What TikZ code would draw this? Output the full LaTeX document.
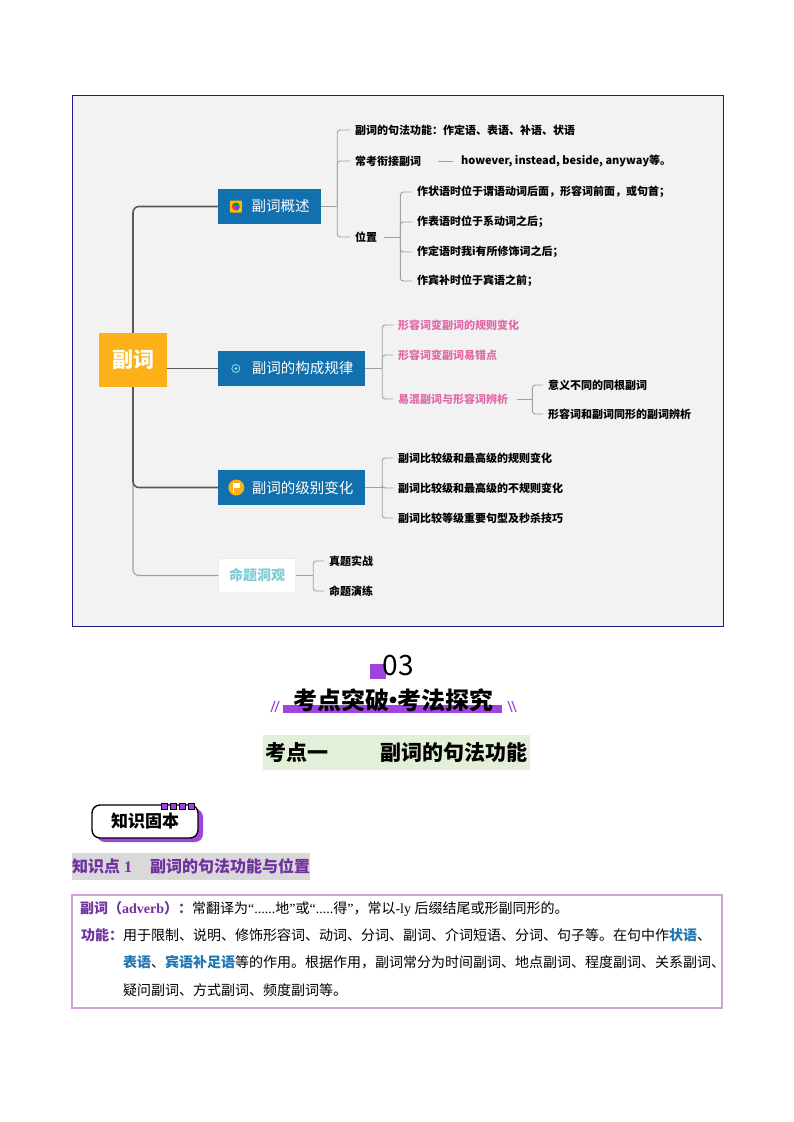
\documentclass[tikz,border=0pt]{standalone}
\usepackage{fontspec}
\setmainfont{Noto Sans CJK SC}
\newfontfamily\latinf{Liberation Serif}
\usepackage{tikz}
\usetikzlibrary{calc, shadows}
\definecolor{mapBlue}{HTML}{1170AD}
\definecolor{rootOrange}{HTML}{FBB117}
\definecolor{mapGray}{HTML}{F2F2F2}
\definecolor{frameNavy}{HTML}{1C1C86}
\definecolor{lineDark}{HTML}{5A5A5A}
\definecolor{lineGray}{HTML}{A0A0A0}
\definecolor{linkPink}{HTML}{E06AA8}
\definecolor{mintText}{HTML}{7FCBD4}
\definecolor{barPurple}{HTML}{A044E0}
\definecolor{kdGreen}{HTML}{E2EFD9}
\definecolor{zdGray}{HTML}{D9D9D9}
\definecolor{txtPurple}{HTML}{7030A0}
\definecolor{txtBlue}{HTML}{1F77B4}
\definecolor{boxPink}{HTML}{D4A0DC}
\newcommand{\mapfs}[1]{\fontsize{#1}{#1}\selectfont}
\newcommand{\purtxt}[1]{{\color{txtPurple}\bfseries #1}}
\newcommand{\blutxt}[1]{{\color{txtBlue}\bfseries #1}}

\begin{document}
\begin{tikzpicture}[x=1pt, y=-1pt,
    mainbox/.style={fill=mapBlue, text=white, minimum height=35, inner sep=0, font=\mapfs{14.5}},
    leaf/.style={anchor=west, inner xsep=5, inner ysep=1, font=\bfseries\mapfs{11}},
    pinkleaf/.style={leaf, text=linkPink},
    mainline/.style={lineDark, line width=1.6, rounded corners=6},
    subline/.style={lineGray, line width=0.9, rounded corners=3},
    bodyline/.style={anchor=base west, inner sep=0, font=\mapfs{14}}]
    \useasboundingbox (0,0) rectangle (794,1122);
    \fill[white] (0,0) rectangle (794,1122);

    % mind map
    \draw[frameNavy, fill=mapGray, line width=1] (72,95) rectangle (723,626);
    \node[fill=rootOrange, text=white, minimum width=68, minimum height=54, inner sep=0, font=\bfseries\mapfs{21}] (root) at (133,360) {副词};
    \node[mainbox, minimum width=103] (gs) at (269.5,206.5) {\hspace{22pt}副词概述};
    \node[mainbox, minimum width=147] (gc) at (291.5,368.5) {\hspace{22pt}副词的构成规律};
    \node[mainbox, minimum width=147] (gj) at (291.5,487.5) {\hspace{22pt}副词的级别变化};
    \node[fill=white, draw=gray!25, rounded corners=2, text=mintText, minimum width=77, minimum height=34, inner sep=0, font=\bfseries\mapfs{14}] (mt) at (257,575.5) {命题洞观};

    \draw[lineGray, line width=1.1, rounded corners=6] (root.south) |- (mt.west);
    \draw[mainline] (root.north) |- (gs.west);
    \draw[mainline] (root.east |- gc.west) -- (gc.west);
    \draw[mainline] (root.south) |- (gj.west);

    % icons
    \fill[orange!55!yellow, rounded corners=1] ($(gs.west)+(12,-6)$) rectangle ($(gs.west)+(24,6)$);
    \foreach \a/\c in {90/red!80, 210/green!60!black, 330/blue!70}
        \fill[\c] ($(gs.west)+(18,0)$) -- ++(\a:4) arc[start angle=\a, end angle=\a+120, radius=4] -- cycle;
    \draw[cyan!40!white, line width=0.8] ($(gc.west)+(18,0)$) circle (4);
    \fill[cyan!40!white] ($(gc.west)+(18,0)$) circle (1.5);
    \fill[rootOrange] ($(gj.west)+(18.5,0)$) circle (8);
    \draw[white, line width=0.9] ($(gj.west)+(15.5,5)$) -- ++(0,-10);
    \fill[white] ($(gj.west)+(15.5,-5)$) rectangle ++(6.5,5.5);

    % 副词概述
    \node[leaf] (a1) at (350,130) {副词的句法功能：作定语、表语、补语、状语};
    \node[leaf] (a2) at (350,161) {常考衔接副词};
    \node[leaf] (a21) at (456,161) {however, instead, beside, anyway等。};
    \node[leaf] (a3) at (350,237) {位置};
    \node[leaf] (a31) at (412,192) {作状语时位于谓语动词后面，形容词前面，或句首；};
    \node[leaf] (a32) at (412,222) {作表语时位于系动词之后；};
    \node[leaf] (a33) at (412,252) {作定语时我i有所修饰词之后；};
    \node[leaf] (a34) at (412,281) {作宾补时位于宾语之前；};
    \draw[subline] (gs.east) -- ++(16,0) coordinate (gsb);
    \foreach \n in {a1,a2,a3} \draw[subline] (gsb) |- (\n.west);
    \draw[subline] ($(a2.east)+(12,0)$) -- ($(a21.west)+(-3,0)$);
    \draw[subline] ($(a3.east)+(2,0)$) -- ++(16,0) coordinate (a3b);
    \foreach \n in {a31,a32,a33,a34} \draw[subline] (a3b) |- (\n.west);

    % 副词的构成规律
    \node[pinkleaf] (b1) at (393,325) {形容词变副词的规则变化};
    \node[pinkleaf] (b2) at (393,355) {形容词变副词易错点};
    \node[pinkleaf] (b3) at (393,399) {易混副词与形容词辨析};
    \node[leaf] (b31) at (543,385) {意义不同的同根副词};
    \node[leaf] (b32) at (543,414) {形容词和副词同形的副词辨析};
    \draw[subline] (gc.east) -- ++(17,0) coordinate (gcb);
    \foreach \n in {b1,b2,b3} \draw[subline] (gcb) |- (\n.west);
    \draw[subline] ($(b3.east)+(4,0)$) -- ++(15,0) coordinate (b3b);
    \foreach \n in {b31,b32} \draw[subline] (b3b) |- (\n.west);

    % 副词的级别变化
    \node[leaf] (c1) at (393,458) {副词比较级和最高级的规则变化};
    \node[leaf] (c2) at (393,488) {副词比较级和最高级的不规则变化};
    \node[leaf] (c3) at (393,518) {副词比较等级重要句型及秒杀技巧};
    \draw[subline] (gj.east) -- ++(17,0) coordinate (gjb);
    \foreach \n in {c1,c2,c3} \draw[subline] (gjb) |- (\n.west);

    % 命题洞观
    \node[leaf] (d1) at (324,561) {真题实战};
    \node[leaf] (d2) at (324,591) {命题演练};
    \draw[subline] (mt.east) -- ++(17.5,0) coordinate (mtb);
    \foreach \n in {d1,d2} \draw[subline] (mtb) |- (\n.west);

    % section heading
    \fill[barPurple] (370,664) rectangle (386,679);
    \node[font=\mapfs{28}, inner sep=0] (sec) at (398,666) {03};
    \fill[barPurple] (283,705) rectangle (502,713);
    \node[font=\bfseries\mapfs{24}, inner sep=0] (ttl) at (393,700) {考点突破\hspace{-8pt}·\hspace{-8pt}考法探究};
    \draw[barPurple, line width=1.2] (271,712) -- (275,701) (275,712) -- (279,701);
    \draw[barPurple, line width=1.2] (508,701) -- (512,712) (512,701) -- (516,712);
    \node[fill=kdGreen, minimum width=267, minimum height=35, inner sep=0, font=\bfseries\mapfs{21}] (kd) at (396.5,752.5) {考点一\hspace{52pt}副词的句法功能};

    % 知识固本
    \node[draw=black, line width=1.4, fill=white, rounded corners=8, minimum width=106, minimum height=33, font=\bfseries\mapfs{17},
        drop shadow={shadow xshift=5pt, shadow yshift=-4pt, fill=barPurple, opacity=1}] (zs) at (145,821.5) {知识固本};
    \foreach \i in {0,...,3} \draw[fill=barPurple, line width=0.7] (161+\i*9,803) rectangle ++(6,6);
    \node[fill=zdGray, anchor=west, inner xsep=0, minimum height=27, text=txtPurple, font=\bfseries\mapfs{16}] (zd) at (72,866.5) {知识点{\latinf\ 1}\hspace{18pt}副词的句法功能与位置};

    % text box
    \node[draw=boxPink, line width=1.4, minimum width=650, minimum height=113, inner sep=0] (tb) at (397,951.5) {};
    \node[bodyline] (l1) at (80,913) {\purtxt{副词（{\latinf adverb}）：}常翻译为{\latinf “......}地{\latinf ”}或{\latinf “.....}得{\latinf ”}，常以{\latinf -ly }后缀结尾或形副同形的。};
    \node[bodyline] (l2) at (81,940) {\purtxt{功能：}用于限制、说明、修饰形容词、动词、分词、副词、介词短语、分词、句子等。在句中作\blutxt{状语}、};
    \node[bodyline] (l3) at (123,967) {\blutxt{表语}、\blutxt{宾语补足语}等的作用。根据作用，副词常分为时间副词、地点副词、程度副词、关系副词、};
    \node[bodyline] (l4) at (123,995) {疑问副词、方式副词、频度副词等。};
\end{tikzpicture}
\end{document}
